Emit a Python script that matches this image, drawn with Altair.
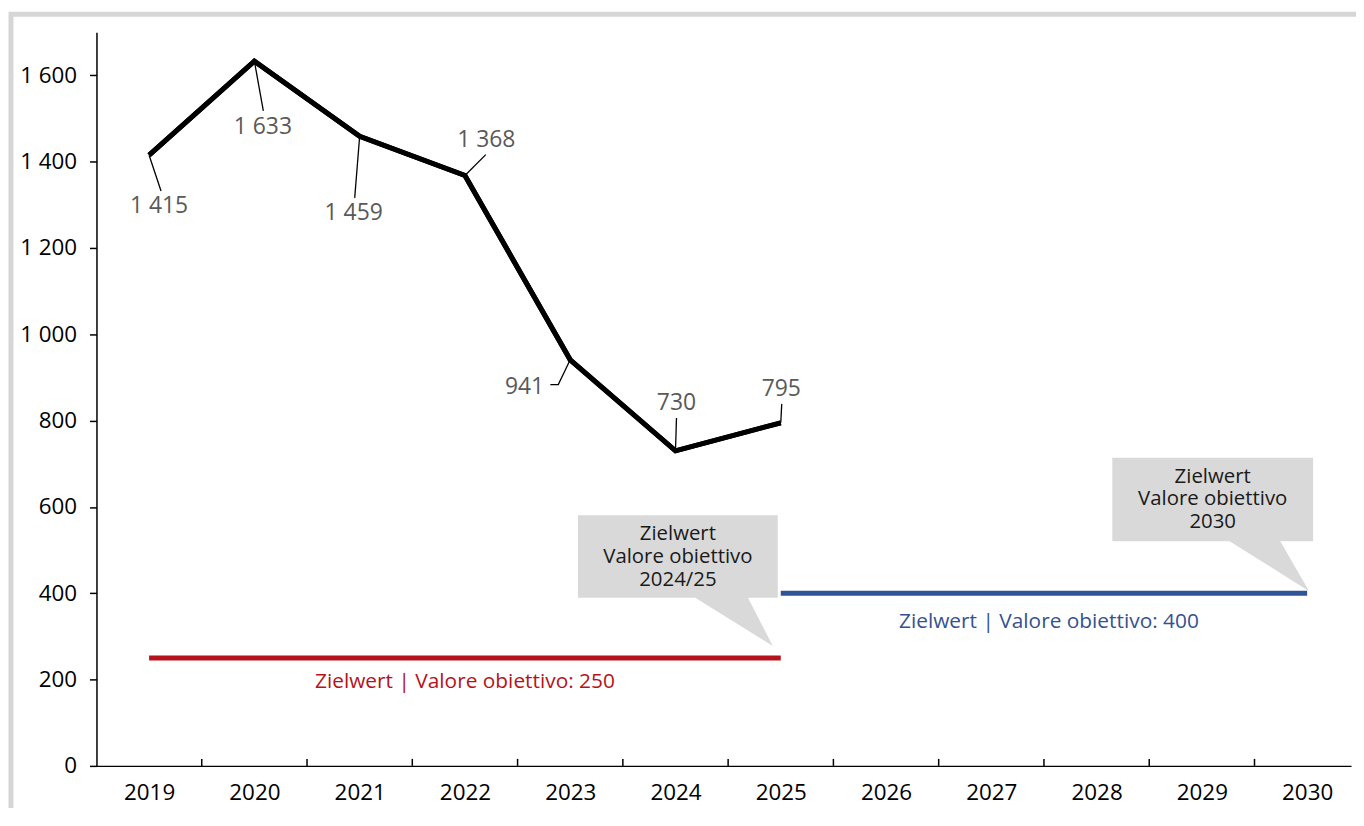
import altair as alt
import pandas as pd

# ---------------- data ----------------
years = [2019, 2020, 2021, 2022, 2023, 2024, 2025]
values = [1415, 1633, 1459, 1368, 941, 730, 795]
axis_years = list(range(2019, 2031))
y_ticks = [0, 200, 400, 600, 800, 1000, 1200, 1400, 1600]

target_labels = ["Zielwert | Valore obiettivo: 250", "Zielwert | Valore obiettivo: 400"]
target_values = [250, 400]
target_start = [2019, 2025]
target_end = [2025, 2030]
callout_texts = ["Zielwert\nValore obiettivo\n2024/25", "Zielwert\nValore obiettivo\n2030"]

# ---------------- style ----------------
W, H = 1262, 738
STEP = 105.9              # px per year
X0 = 2018.5
XMAX = X0 + W / STEP
YMAX = 1700
PXV = H / YMAX            # px per unit
FONT = "Open Sans"
target_colors = ["#B5121B", "#2F5597"]
target_text_colors = ["#B5121B", "#34528F"]
target_text_dy = [24, 29]
target_text_dx = [0, 5]

# label offsets (px) relative to the data point
label_off = [(10, 51), (8.5, 66), (-6, 77), (21.5, -36), (-46, 27), (1, -48), (0.5, -34)]
leader_pts = [
    [(0, 0), (12, 36)],
    [(0, 0), (9, 50)],
    [(0, 0), (-5, 62)],
    [(0, 0), (21, -21)],
    [(0, 0), (-12, 25), (-20, 25)],
    [(0, 0), (1, -33)],
    [(0, 0), (1, -19)],
]
callout_paths = [
    "M-204,-143.5H-3V-60.5H-33L-8,-12L-86,-60.5H-204Z",
    "M-196,-136.4H6V-52.4H-27L2,-2L-78,-52.4H-196Z",
]
callout_text_off = [(-103.5, -124.5), (-95, -117.4)]


def ox(year, dx):
    return year + dx / STEP


def oy(v, dy):
    return v - dy / PXV


def fmt(v):
    return f"{v:,}".replace(",", " ")


xs = alt.Scale(domain=[X0, XMAX], nice=False, zero=False)
ys = alt.Scale(domain=[0, YMAX], nice=False, zero=True)

AX = alt.Axis(values=axis_years, format="d", ticks=False, grid=False,
              domainColor="black", domainWidth=1.5, labelFontSize=22.5,
              labelColor="black", labelPadding=16, labelFont=FONT, title=None)
AY = alt.Axis(values=y_ticks, grid=False, domainColor="black", domainWidth=1.5,
              tickColor="black", tickSize=7, tickWidth=1.5,
              labelFontSize=22.5, labelColor="black", labelPadding=13,
              labelFont=FONT, title=None,
              labelExpr="replace(format(datum.value, ','), ',', ' ')")


def X(f):
    return alt.X(f, scale=xs, axis=AX, title=None)


def Y(f):
    return alt.Y(f, scale=ys, axis=AY, title=None)


main = pd.DataFrame({"year": years, "value": values})
labels = pd.DataFrame({
    "x": [ox(y, d[0]) for y, d in zip(years, label_off)],
    "y": [oy(v, d[1]) for v, d in zip(values, label_off)],
    "t": [fmt(v) for v in values],
})
lead_rows = []
for i, (y, v, pts) in enumerate(zip(years, values, leader_pts)):
    for k, (dx, dy) in enumerate(pts):
        lead_rows.append({"id": i, "k": k, "x": ox(y, dx), "y": oy(v, dy)})
leaders = pd.DataFrame(lead_rows)

targets = pd.DataFrame({
    "start": target_start, "end": target_end, "value": target_values,
    "label": target_labels, "color": target_colors, "tcolor": target_text_colors,
    "tx": [ox((a + b) / 2, d) for a, b, d in zip(target_start, target_end, target_text_dx)],
    "ty": [oy(v, d) for v, d in zip(target_values, target_text_dy)],
})

boundaries = pd.DataFrame({"b": [y + 0.5 for y in axis_years[:-1]]})

# ---------------- layers ----------------
frame = alt.Chart(pd.DataFrame({"a": [0]})).mark_rect(
    fillOpacity=0, stroke="#d6d6d6", strokeWidth=5
).encode(
    x=alt.value(-86), x2=alt.value(W + 60), y=alt.value(-18), y2=alt.value(H + 90)
)

line = alt.Chart(main).mark_line(color="black", strokeWidth=5, strokeJoin="miter").encode(
    x=X("year:Q"), y=Y("value:Q"),
)

xticks = alt.Chart(boundaries).mark_rule(color="black", strokeWidth=1.5).encode(
    x=X("b:Q"), y=alt.value(H - 7), y2=alt.value(H)
)

lead = alt.Chart(leaders).mark_line(color="black", strokeWidth=1.3).encode(
    x=X("x:Q"), y=Y("y:Q"), detail="id:N", order="k:Q"
)

dlabels = alt.Chart(labels).mark_text(fontSize=23, color="#595959", font=FONT,
                                      baseline="middle", align="center").encode(
    x=X("x:Q"), y=Y("y:Q"), text="t:N"
)

trules = alt.Chart(targets).mark_rule(strokeWidth=5).encode(
    x=X("start:Q"), x2="end:Q", y=Y("value:Q"),
    color=alt.Color("color:N", scale=None)
)

ttext = alt.Chart(targets).mark_text(fontSize=21, font=FONT, baseline="middle",
                                     align="center").encode(
    x=X("tx:Q"), y=Y("ty:Q"),
    text="label:N", color=alt.Color("tcolor:N", scale=None)
)

layers = [line, frame, trules, ttext]
for i in range(len(target_values)):
    row = pd.DataFrame({"x": [target_end[i]], "y": [target_values[i]],
                        "tx": [ox(target_end[i], callout_text_off[i][0])],
                        "ty": [oy(target_values[i], callout_text_off[i][1])],
                        "t": [callout_texts[i]]})
    box = alt.Chart(row).mark_point(shape=callout_paths[i], size=4, filled=True,
                                    fill="#D9D9D9", strokeOpacity=0, opacity=1).encode(
        x=X("x:Q"), y=Y("y:Q")
    )
    btxt = alt.Chart(row).mark_text(fontSize=20.5, font=FONT, color="#1a1a1a", lineBreak="\n",
                                    lineHeight=23, baseline="middle", align="center").encode(
        x=X("tx:Q"), y=Y("ty:Q"), text="t:N"
    )
    layers += [box, btxt]

layers += [alt.Chart(main).mark_line(color="black", strokeWidth=5, strokeJoin="miter").encode(
    x=X("year:Q"), y=Y("value:Q")), xticks, lead, dlabels]

chart = alt.layer(*layers).properties(
    width=W, height=H,
    autosize=alt.AutoSizeParams(type="none"),
    padding={"left": 89, "top": 22, "right": 5, "bottom": 40},
).configure(
    font=FONT, background="white",
    view=alt.ViewConfig(strokeOpacity=0, strokeWidth=0),
)

chart.save("out.html", embed_options={"renderer": "svg", "actions": False})
